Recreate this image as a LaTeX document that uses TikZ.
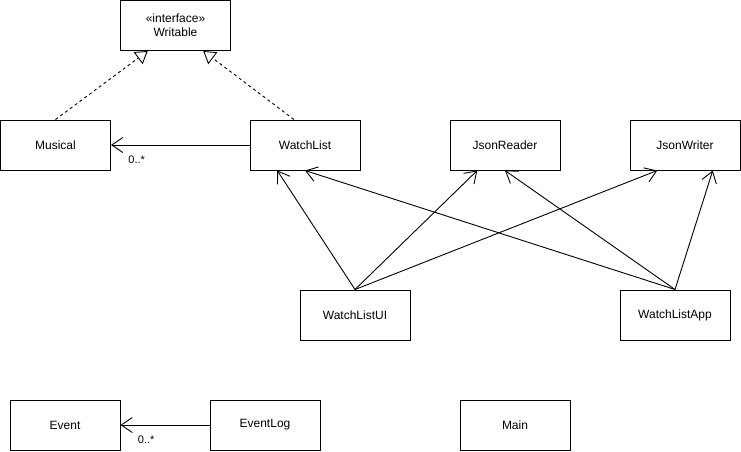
\documentclass[tikz,border=0pt]{standalone}
\usepackage{fontspec}
\setmainfont{Liberation Sans}
\usetikzlibrary{arrows.meta,calc}
\begin{document}
\begin{tikzpicture}[x=1pt,y=-1pt,
  cls/.style={draw, line width=1pt, minimum width=110pt, minimum height=50pt, inner sep=0pt, align=center, font=\fontsize{12}{14}\selectfont},
  assoc/.style={line width=0.9pt, -{Straight Barb[length=11pt,width=15pt,line width=0.9pt]}},
  real/.style={line width=0.9pt, dash pattern=on 3pt off 3pt, -{Triangle[open,length=12pt,width=15pt,fill=white,line width=0.9pt]}},
  mult/.style={font=\fontsize{11}{13}\selectfont, anchor=west, inner sep=0pt}]
\useasboundingbox (0,0) rectangle (741,451);
\node[cls] (writable) at (175.5,25.5) {«interface»\\Writable};
\node[cls] (musical) at (55.5,145) {Musical};
\node[cls] (watchlist) at (305,145) {WatchList};
\node[cls] (jsonreader) at (505,145) {JsonReader};
\node[cls] (jsonwriter) at (685,145) {JsonWriter};
\node[cls] (watchlistui) at (355,315) {WatchListUI};
\node[cls] (watchlistapp) at (675,315) {WatchListApp};
\node[cls] (event) at (65,425) {Event};
\node[cls] (eventlog) at (265,425) {EventLog};
\node[cls] (main) at (515,425) {Main};
% realizations
\draw[real] (musical.north) -- ($(writable.south west)!0.25!(writable.south east)$);
\draw[real] ($(watchlist.north west)!0.4!(watchlist.north east)$) -- ($(writable.south west)!0.75!(writable.south east)$);
% associations
\draw[assoc] (watchlist.west) -- (musical.east) node[mult, pos=1, xshift=17pt, yshift=-15pt] (m1) {0..*};
\draw[assoc] (eventlog.west) -- (event.east) node[mult, pos=1, xshift=17pt, yshift=-15pt] (m2) {0..*};
% dependencies
\draw[assoc] (watchlistui.north) -- ($(watchlist.south west)!0.25!(watchlist.south east)$);
\draw[assoc] (watchlistui.north) -- ($(jsonreader.south west)!0.25!(jsonreader.south east)$);
\draw[assoc] (watchlistui.north) -- ($(jsonwriter.south west)!0.25!(jsonwriter.south east)$);
\draw[assoc] (watchlistapp.north) -- (watchlist.south);
\draw[assoc] (watchlistapp.north) -- (jsonreader.south);
\draw[assoc] (watchlistapp.north) -- ($(jsonwriter.south west)!0.75!(jsonwriter.south east)$);
\end{tikzpicture}
\end{document}
